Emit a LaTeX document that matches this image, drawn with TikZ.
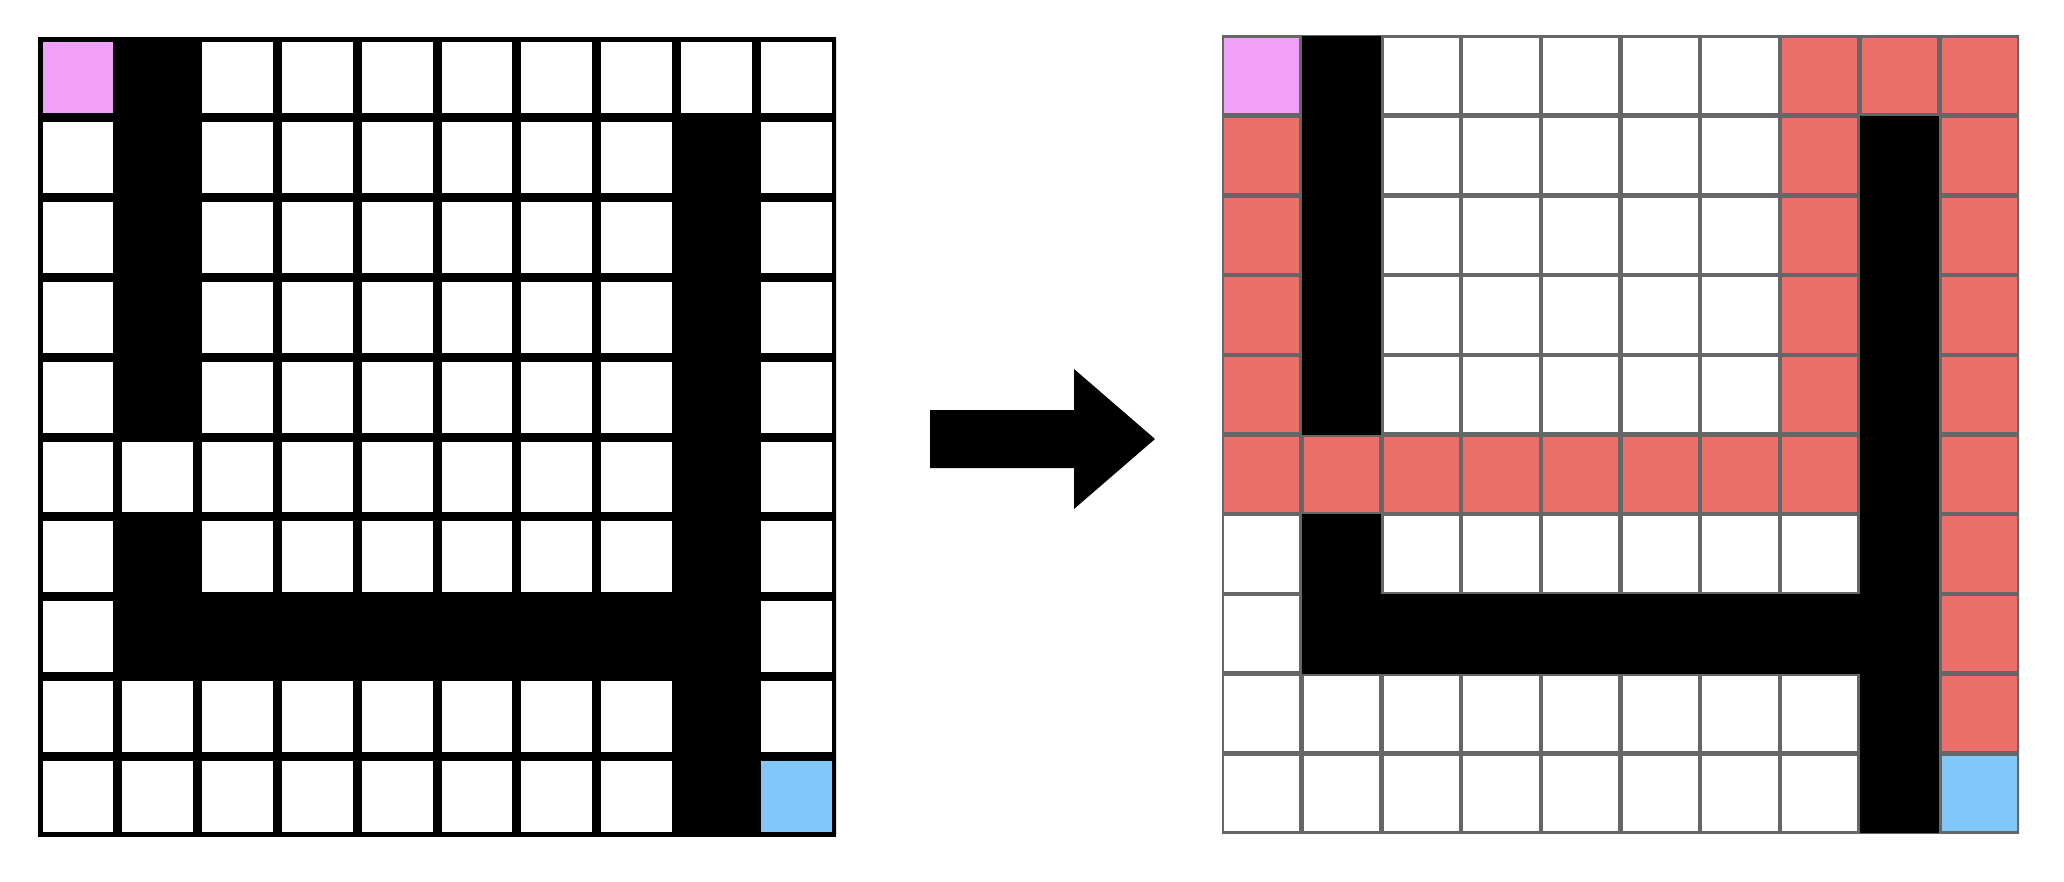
\documentclass[tikz,border=0pt]{standalone}
\usepackage{tikz}
\usetikzlibrary{calc}

\definecolor{startpink}{RGB}{240,160,246}
\definecolor{goalblue}{RGB}{128,200,250}
\definecolor{pathred}{RGB}{236,112,106}

\tikzset{
  wallcell/.style={fill=black},
  startcell/.style={fill=startpink},
  goalcell/.style={fill=goalblue},
  pathcell/.style={fill=pathred},
  thickgrid/.style={draw=black, line width=9pt},
  thingrid/.style={draw=black!60, line width=4.5pt}
}

\begin{document}
\begin{tikzpicture}[x=1pt,y=-1pt]
    \useasboundingbox (0,0) rectangle (2064,882);

    % Left maze (input)
    \begin{scope}[shift={(38,38)}, x=79.8pt, y=-79.8pt]
      \clip (0,0) rectangle (10,10);
      \fill[white] (0,0) rectangle (10,10);
      \fill[startcell] (0,0) rectangle (1,1);
      \fill[goalcell]  (9,9) rectangle (10,10);
      % walls
      \foreach \c/\r in {1/0,1/1,1/2,1/3,1/4,1/6,1/7,2/7,3/7,4/7,5/7,6/7,7/7,
                         8/1,8/2,8/3,8/4,8/5,8/6,8/7,8/8,8/9}
        \fill[wallcell] (\c,\r) rectangle ++(1,1);
      % grid lines
      \foreach \k in {0,...,10} {
        \draw[thickgrid] (\k,0) -- (\k,10);
        \draw[thickgrid] (0,\k) -- (10,\k);
      }
    \end{scope}

    % Arrow
    \fill[black] (930,410) -- (1074,410) -- (1074,369) -- (1155,439)
      -- (1074,509) -- (1074,468) -- (930,468) -- cycle;

    % Right maze (solved path)
    \begin{scope}[shift={(1222,36)}, x=79.7pt, y=-79.7pt]
      \clip (0,0) rectangle (10,10);
      \fill[white] (0,0) rectangle (10,10);
      \fill[startcell] (0,0) rectangle (1,1);
      \fill[goalcell]  (9,9) rectangle (10,10);
      % path
      \foreach \c/\r in {0/1,0/2,0/3,0/4,0/5,1/5,2/5,3/5,4/5,5/5,6/5,7/5,
                         7/4,7/3,7/2,7/1,7/0,8/0,9/0,
                         9/1,9/2,9/3,9/4,9/5,9/6,9/7,9/8}
        \fill[pathcell] (\c,\r) rectangle ++(1,1);
      % grid lines
      \foreach \k in {0,...,10} {
        \draw[thingrid] (\k,0) -- (\k,10);
        \draw[thingrid] (0,\k) -- (10,\k);
      }
      % walls
      \foreach \c/\r in {1/0,1/1,1/2,1/3,1/4,1/6,1/7,2/7,3/7,4/7,5/7,6/7,7/7,
                         8/1,8/2,8/3,8/4,8/5,8/6,8/7,8/8,8/9}
        \fill[wallcell] (\c,\r) rectangle ++(1,1);
    \end{scope}
\end{tikzpicture}
\end{document}
